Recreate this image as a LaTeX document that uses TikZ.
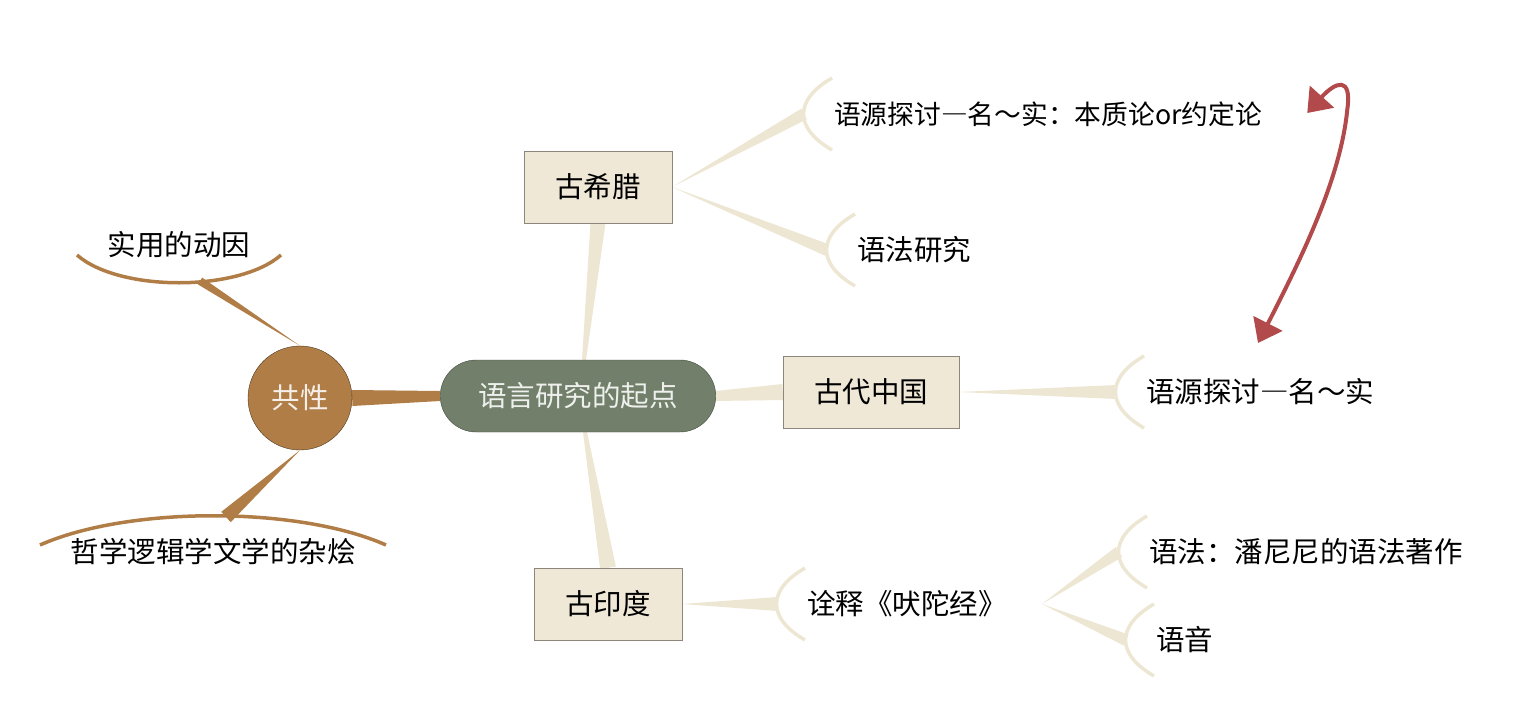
\documentclass[tikz,border=0pt]{standalone}
\usepackage{fontspec}
\setmainfont{Noto Sans CJK SC}
\usetikzlibrary{positioning, calc, backgrounds, arrows.meta}
\definecolor{sage}{HTML}{727F6A}
\definecolor{sagedark}{HTML}{434B3E}
\definecolor{bronze}{HTML}{B07D47}
\definecolor{bronzedark}{HTML}{4E3A22}
\definecolor{parchment}{HTML}{EFE8D7}
\definecolor{parchmentline}{HTML}{8C877A}
\definecolor{sand}{HTML}{EDE6D2}
\definecolor{brick}{HTML}{B24A4B}
% tapered branch: from #2 (half width #4) to #3 (half width #5)
\newcommand{\branchfill}[5][sand]{\fill[#1] ($(#2)!#4!90:(#3)$) -- ($(#3)!#5!-90:(#2)$) -- ($(#3)!#5!90:(#2)$) -- ($(#2)!#4!-90:(#3)$) -- cycle;}
\newcommand{\wdash}{{\addfontfeature{RawFeature=+fwid}—}}

\begin{document}
\begin{tikzpicture}[x=1pt, y=-1pt, font=\fontsize{28.5}{33}\selectfont,
    root/.style={rectangle, rounded corners=36pt, draw=sagedark, fill=sage, text=white!88!sage, minimum height=72pt, inner xsep=38pt},
    topic/.style={rectangle, draw=parchmentline, fill=parchment, minimum height=72pt, inner xsep=31pt},
    core/.style={circle, draw=bronzedark, fill=bronze, text=white!88!bronze, minimum size=104pt, inner sep=0pt},
    leaf/.style={anchor=west, inner sep=0pt},
    bracket/.style={draw=sand, line width=3.5pt},
    underarc/.style={draw=bronze, line width=3.5pt},
    relation/.style={draw=brick, line width=4pt, {Triangle[length=22pt,width=32pt]}-{Triangle[length=22pt,width=32pt]}}]
    \useasboundingbox (0,0) rectangle (1536,720);

    % Nodes
    \node (root) [root] at (578,396) {语言研究的起点};
    \node (core) [core] at (300,398) {共性};
    \node (greece) [topic] at (598,187) {古希腊};
    \node (china) [topic] at (871,392) {古代中国};
    \node (india) [topic] at (608,604) {古印度};

    \node (p1) [inner sep=0pt] at (179,245) {实用的动因};
    \node (p2) [inner sep=0pt] at (213,552) {哲学逻辑学文学的杂烩};

    \node (g1) [leaf, font=\fontsize{26.75}{31}\selectfont] at (834,114) {语源探讨\wdash 名～实：本质论or约定论};
    \node (g2) [leaf] at (857,250) {语法研究};
    \node (c1) [leaf] at (1146,392) {语源探讨\wdash 名～实};
    \node (i1) [leaf] at (807,604) {诠释《吠陀经》};
    \node (i2) [leaf] at (1149,552) {语法：潘尼尼的语法著作};
    \node (i3) [leaf] at (1156,640) {语音};

    % Joints
    \coordinate (rootN) at ($(root.north)+(6,0)$);
    \coordinate (rootS) at ($(root.south)+(7,0)$);
    \coordinate (i1j) at ($(i1.east)+(35,0)$);
    \coordinate (p1b) at ($(p1)+(21,36)$);
    \coordinate (p2b) at ($(p2)+(13,-35)$);
    \foreach \l in {g1,g2,c1,i1,i2,i3}
        \coordinate (\l b) at ($(\l.west)+(-30,0)$);

    \begin{scope}[on background layer]
        % Branches
        \branchfill{rootN}{greece.south}{2pt}{7.5pt}
        \branchfill{root.east}{china.west}{5pt}{8pt}
        \branchfill{rootS}{india.north}{2pt}{8pt}
        \branchfill[bronze]{core.east}{root.west}{8pt}{5pt}
        \branchfill[bronze]{core.north}{p1b}{0pt}{4pt}
        \branchfill[bronze]{core.south}{p2b}{0pt}{7pt}
        \branchfill{greece.east}{g1b}{0pt}{6pt}
        \branchfill{greece.east}{g2b}{0pt}{6pt}
        \branchfill{china.east}{c1b}{0pt}{7pt}
        \branchfill{india.east}{i1b}{0pt}{7pt}
        \branchfill{i1j}{i2b}{0pt}{6pt}
        \branchfill{i1j}{i3b}{0pt}{6pt}

        % Brackets
        \foreach \l in {g1,g2,c1,i1,i2,i3}
            \draw[bracket] ($(\l.west)+(-2,-36)$) .. controls ($(\l.west)+(-40,-14)$) and ($(\l.west)+(-40,14)$) .. ($(\l.west)+(-2,36)$);
        \draw[underarc] ($(p1)+(-102,10)$) .. controls ($(p1)+(-60,47)$) and ($(p1)+(60,47)$) .. ($(p1)+(102,10)$);
        \draw[underarc] ($(p2)+(-173,-7)$) .. controls ($(p2)+(-85,-46)$) and ($(p2)+(85,-46)$) .. ($(p2)+(173,-7)$);
    \end{scope}

    % Relation
    \draw[relation] ($(g1.east)+(45,-1)$) .. controls ($(g1.east)+(73,-32)$) and ($(g1.east)+(90,-39)$) .. ($(g1.east)+(85,-4)$)
        .. controls ($(g1.east)+(78,66)$) and ($(g1.east)+(38,146)$) .. ($(c1.west)+(112,-49)$);
\end{tikzpicture}
\end{document}
